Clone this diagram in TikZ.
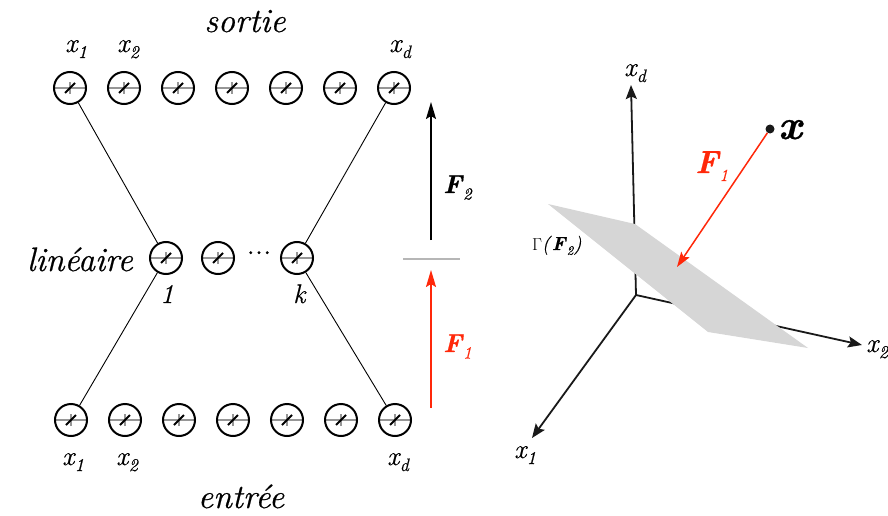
\documentclass[tikz,border=0pt]{standalone}
\usepackage{fontspec}
\setmainfont{Latin Modern Roman}[FakeBold=0.6]
\usetikzlibrary{arrows.meta, positioning}

\definecolor{fred}{RGB}{255,40,10}
\definecolor{planegray}{RGB}{214,214,214}
\definecolor{crossgray}{RGB}{150,150,150}

\newcommand{\fsz}[1]{\fontsize{#1}{#1}\selectfont}
\newcommand{\xsub}[1]{{\fsz{27}\itshape x\kern0.5pt\raisebox{-6pt}{\fsz{18}#1}}}
\newcommand{\Fsub}[2]{{\fsz{#1}\bfseries\itshape F\kern1pt\raisebox{-0.25em}{\fsz{17}\mdseries #2}}}

\begin{document}
\begin{tikzpicture}[
    x=1pt, y=-1pt,
    neuron/.style={circle, draw, line width=2pt, minimum size=32pt, inner sep=0pt,
        path picture={
            \draw[crossgray, line width=2pt] (path picture bounding box.west) -- (path picture bounding box.east);
            \draw[crossgray, line width=1.6pt] ([yshift=-6pt]path picture bounding box.center) -- ([yshift=6pt]path picture bounding box.center);
            \draw[line width=1.8pt] ([xshift=-5pt,yshift=-5pt]path picture bounding box.center) -- ([xshift=5pt,yshift=5pt]path picture bounding box.center);
        }},
    link/.style={line width=0.9pt},
    lab/.style={inner sep=0pt, anchor=base west},
    big/.style={inner sep=0pt, anchor=base, font=\fsz{34}\itshape},
    farrow/.style={-{Stealth[length=17pt, width=10pt, inset=3pt]}, line width=1.5pt},
    axis/.style={-{Stealth[length=14pt, width=11pt, inset=2.5pt]}, line width=1.8pt, draw=black!90}
]
\useasboundingbox (0,0) rectangle (888,516);

% reseau
\foreach \i in {1,...,7} {
    \node[neuron] (out\i) at ({16+54*\i}, 88) {};
    \node[neuron] (in\i) at ({17+54*\i}, 420) {};
}
\node[neuron] (h1) at (166,258) {};
\node[neuron] (h2) at (218,258) {};
\node[neuron] (hk) at (297,258) {};
\node[inner sep=0pt, font=\fsz{33}] (dots) at (259,256) {\raisebox{0.2em}{...}};

\draw[link] (out1) -- (h1);
\draw[link] (out7) -- (hk);
\draw[link] (h1) -- (in1);
\draw[link] (hk) -- (in7);

\node[lab] (tx1) at (65,52) {\xsub{1}};
\node[lab] (tx2) at (117,52) {\xsub{2}};
\node[lab] (txd) at (389,52) {\xsub{d}};
\node[lab] (bx1) at (62,465) {\xsub{1}};
\node[lab] (bx2) at (116,465) {\xsub{2}};
\node[lab] (bxd) at (387,465) {\xsub{d}};
\node[lab, font=\fsz{27}\itshape] (one) at (160,303) {1};
\node[lab, font=\fsz{27}\itshape] (kay) at (293,303) {k};

\node[big] (sortie) at (245,32) {sortie};
\node[big] (entree) at (241,508) {entrée};
\node[big, anchor=base east] (lin) at (133,271) {linéaire};

% F1, F2
\coordinate (f2s) at (431,240);
\coordinate (f2e) at (431,102);
\coordinate (f1s) at (431,408);
\coordinate (f1e) at (431,270);
\coordinate (sepa) at (403,259);
\coordinate (sepb) at (460,259);
\draw[farrow] (f2s) -- (f2e);
\draw[farrow, draw=fred, fill=fred] (f1s) -- (f1e);
\draw[crossgray!70, line width=1.6pt] (sepa) -- (sepb);
\node[lab] (lf2) at (443,193) {\Fsub{26}{2}};
\node[lab, text=fred] (lf1) at (443,352) {\Fsub{26}{1}};

% espace
\coordinate (O) at (636,295);
\coordinate (axd) at (631,85);
\coordinate (ax1) at (532,438);
\coordinate (ax2) at (862,345);
\draw[axis] (O) -- (axd);
\draw[axis] (O) -- (ax1);
\draw[axis] (O) -- (ax2);
\fill[planegray] (548,204) -- (635,224) -- (808,348) -- (708,332) -- cycle;

\node[lab] (rxd) at (624,76) {\xsub{d}};
\node[lab] (rx1) at (514,458) {\xsub{1}};
\node[lab] (rx2) at (866,352) {\xsub{2}};

\node[circle, fill=black!90, inner sep=0pt, minimum size=9pt] (pt) at (770,129) {};
\node[lab, font=\fsz{42}\bfseries\itshape] (px) at (778,139) {x};
\coordinate (proj) at (677,267);
\draw[-{Stealth[length=15pt, width=10pt, inset=3pt]}, line width=1.5pt, draw=fred, fill=fred] (pt) -- (proj);
\node[lab, text=fred] (rf1) at (695,173) {\Fsub{32}{1}};
\node[lab] (gam) at (532,250) {\fsz{19}$\Gamma$\textit{(}\textbf{\textit{F}}\raisebox{-0.25em}{\fsz{13}\textit{2}}\textit{)}};

\end{tikzpicture}
\end{document}
